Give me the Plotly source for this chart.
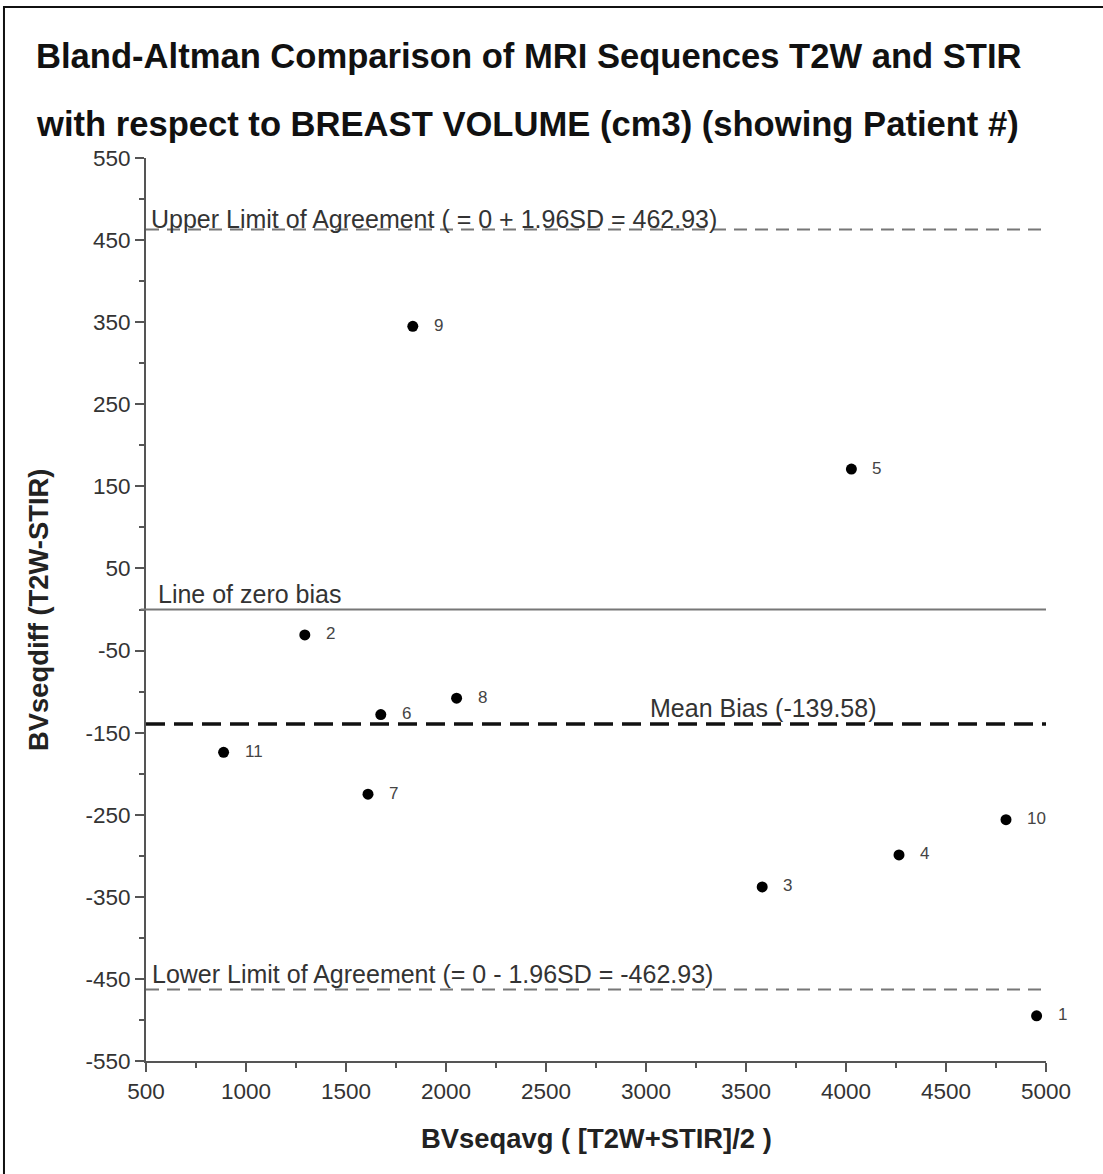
import plotly.graph_objects as go

# Bland-Altman data: patient number, mean of the two sequences, difference (T2W - STIR)
patients = [1, 2, 3, 4, 5, 6, 7, 8, 9, 10, 11]
bv_avg = [4953, 1294, 3581, 4265, 4027, 1674, 1610, 2053, 1834, 4800, 888]
bv_diff = [-495, -31, -338, -299, 171, -128, -225, -108, 345, -256, -174]

mean_bias = -139.58
upper_loa = 462.93
lower_loa = -462.93

x_ticks = [500, 1000, 1500, 2000, 2500, 3000, 3500, 4000, 4500, 5000]
y_ticks = [-550, -450, -350, -250, -150, -50, 50, 150, 250, 350, 450, 550]
y_tick_labels = [str(v) for v in y_ticks]

FONT = "Liberation Sans, Arial, sans-serif"
AXIS_GRAY = "#555555"
TEXT_GRAY = "#333333"

fig = go.Figure()

fig.add_trace(go.Scatter(
    x=bv_avg, y=bv_diff, mode="markers",
    marker=dict(color="black", size=11),
    hoverinfo="skip", showlegend=False,
))

# patient numbers beside each point
for pid, xa, yd in zip(patients, bv_avg, bv_diff):
    fig.add_annotation(x=xa, y=yd, text=str(pid), showarrow=False,
                       xanchor="left", yanchor="middle", xshift=19, yshift=1,
                       font=dict(family=FONT, size=17, color="#444444"))

# reference lines
fig.add_shape(type="line", xref="paper", x0=0, x1=1, yref="y", y0=upper_loa, y1=upper_loa,
              line=dict(color="#777777", width=2, dash="13px,8px"))
fig.add_shape(type="line", xref="paper", x0=-0.006, x1=1, yref="y", y0=0, y1=0,
              line=dict(color="#777777", width=2))
fig.add_shape(type="line", xref="paper", x0=0, x1=1, yref="y", y0=mean_bias, y1=mean_bias,
              line=dict(color="#111111", width=3.5, dash="19px,9px"))
fig.add_shape(type="line", xref="paper", x0=0, x1=1, yref="y", y0=lower_loa, y1=lower_loa,
              line=dict(color="#777777", width=2, dash="13px,8px"))

line_font = dict(family=FONT, size=25, color=TEXT_GRAY)
fig.add_annotation(x=500, y=upper_loa, xanchor="left", yanchor="bottom", xshift=3, yshift=-6,
                   text=f"Upper Limit of Agreement ( = 0 + 1.96SD = {upper_loa:.2f})",
                   showarrow=False, font=line_font)
fig.add_annotation(x=500, y=0, xanchor="left", yanchor="bottom", xshift=10, yshift=0,
                   text="Line of zero bias", showarrow=False, font=line_font)
fig.add_annotation(x=3585, y=mean_bias, xanchor="center", yanchor="bottom", yshift=0,
                   text=f"Mean Bias ({mean_bias:.2f})", showarrow=False, font=line_font)
fig.add_annotation(x=500, y=lower_loa, xanchor="left", yanchor="bottom", xshift=4, yshift=0,
                   text=f"Lower Limit of Agreement (= 0 - 1.96SD = {lower_loa:.2f})",
                   showarrow=False, font=line_font)

# two-line bold title
title_font = dict(family=FONT, size=34.6, color="#111111")
fig.add_annotation(xref="paper", yref="paper", x=-0.1244, y=1.1130, xanchor="left", yanchor="middle",
                   text="<b>Bland-Altman Comparison of MRI Sequences T2W and STIR</b>",
                   showarrow=False, font=title_font)
fig.add_annotation(xref="paper", yref="paper", x=-0.1244, y=1.0377, xanchor="left", yanchor="middle",
                   text="<b>with respect to BREAST VOLUME (cm3) (showing Patient #)</b>",
                   showarrow=False, font=title_font)

# axis titles
axis_title_font = dict(family=FONT, size=27.4, color="#222222")
fig.add_annotation(xref="paper", yref="paper", x=0.5, y=-0.0853, xanchor="center", yanchor="middle",
                   text="<b>BVseqavg ( [T2W+STIR]/2 )</b>", showarrow=False, font=axis_title_font)
fig.add_annotation(xref="paper", yref="paper", x=-0.12, y=0.4994, xanchor="center", yanchor="middle",
                   text="<b>BVseqdiff (T2W-STIR)</b>", textangle=-90, showarrow=False,
                   font=axis_title_font)

# outer frame
fig.add_shape(type="rect", xref="paper", yref="paper",
              x0=-0.1578, x1=1.075, y0=-0.135, y1=1.1672,
              line=dict(color="#111111", width=2), fillcolor="rgba(0,0,0,0)")

tick_font = dict(family=FONT, size=22.5, color=TEXT_GRAY)
fig.update_xaxes(range=[500, 5000], tickvals=x_ticks, ticks="outside", ticklen=9, tickwidth=2,
                 tickcolor=AXIS_GRAY, showline=True, linecolor=AXIS_GRAY, linewidth=2,
                 showgrid=False, zeroline=False, tickfont=tick_font,
                 minor=dict(tick0=750, dtick=500, ticks="outside", ticklen=5, tickwidth=2,
                            tickcolor=AXIS_GRAY, showgrid=False))
fig.update_yaxes(range=[-550, 550], tickvals=y_ticks, ticktext=y_tick_labels, ticks="outside",
                 ticklen=9, tickwidth=2,
                 tickcolor=AXIS_GRAY, showline=True, linecolor=AXIS_GRAY, linewidth=2,
                 showgrid=False, zeroline=False, tickfont=tick_font,
                 minor=dict(tick0=-500, dtick=100, ticks="outside", ticklen=5, tickwidth=2,
                            tickcolor=AXIS_GRAY, showgrid=False))

fig.update_layout(width=1103, height=1174, margin=dict(l=146, r=57, t=158, b=113),
                  plot_bgcolor="white", paper_bgcolor="white", showlegend=False)

fig.write_html("out.html")
